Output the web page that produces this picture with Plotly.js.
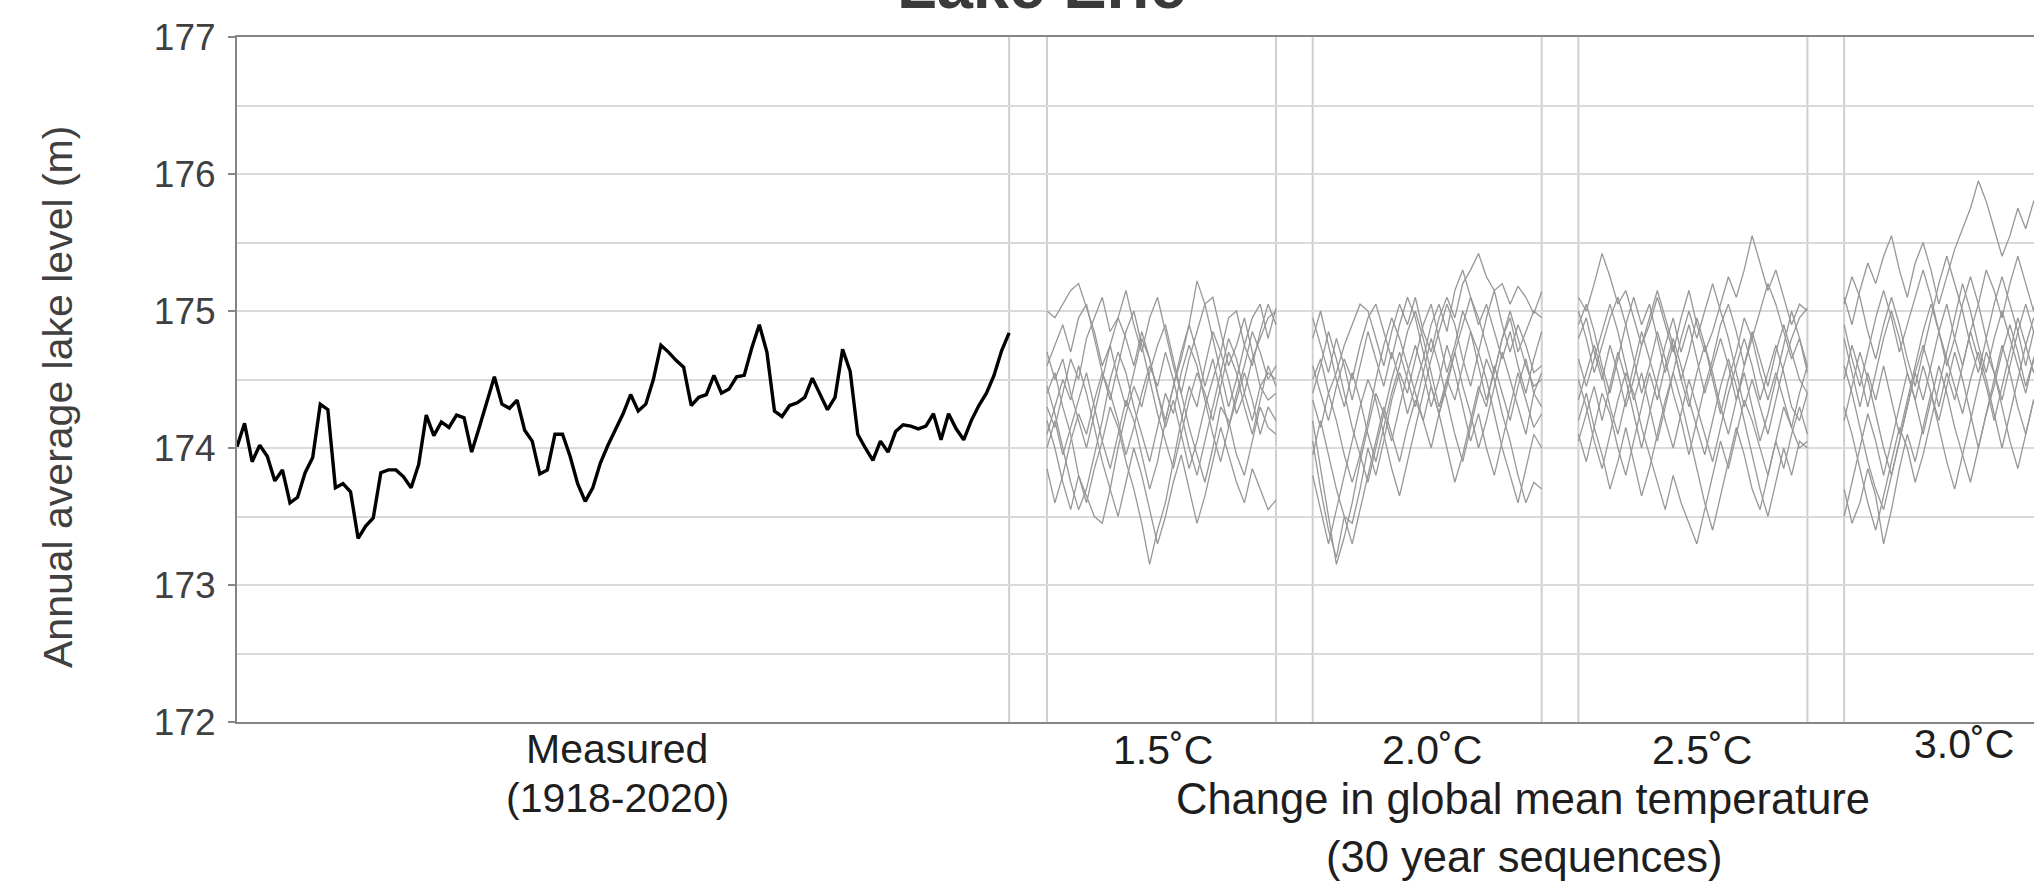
<!DOCTYPE html>
<html>
<head>
<meta charset="utf-8">
<script src="https://cdn.plot.ly/plotly-3.0.1.min.js"></script>
<style>html,body{margin:0;padding:0;background:#fff;}#chart{width:2034px;height:887px;}</style>
</head>
<body>
<div id="chart"></div>
<script>
// ---------------- DATA ----------------
const chartTitle = "Lake Erie";
const yAxisTitle = "Annual average lake level (m)";
const measuredLabel = ["Measured", "(1918-2020)"];
const scenarioLabels = ["1.5˚C", "2.0˚C", "2.5˚C", "3.0˚C"];
const scenarioAxisTitle = "Change in global mean temperature";
const scenarioAxisSub = "(30 year sequences)";
const yTicks = [172, 173, 174, 175, 176, 177];
const measuredStartYear = 1918;

// Measured annual average lake level, 1918-2020
const measured = [
  174.01,174.18,173.90,174.02,173.94,173.76,173.84,173.60,173.64,173.82,
  173.93,174.32,174.28,173.71,173.74,173.68,173.34,173.43,173.49,173.82,
  173.84,173.84,173.79,173.71,173.88,174.24,174.09,174.19,174.15,174.24,
  174.22,173.97,174.15,174.33,174.52,174.32,174.29,174.35,174.13,174.05,
  173.81,173.84,174.10,174.10,173.94,173.74,173.61,173.71,173.89,174.02,
  174.13,174.25,174.39,174.27,174.32,174.50,174.75,174.70,174.64,174.59,
  174.31,174.37,174.39,174.53,174.40,174.43,174.52,174.53,174.73,174.90,
  174.70,174.27,174.23,174.31,174.33,174.37,174.51,174.39,174.28,174.37,
  174.72,174.56,174.10,174.00,173.91,174.05,173.97,174.12,174.17,174.16,
  174.14,174.16,174.25,174.06,174.25,174.14,174.06,174.20,174.31,174.40,
  174.53,174.71,174.84
];

// 30-year simulated sequences, +1.5 C
const seq15 = [
  [175.00,174.95,175.05,175.15,175.20,175.02,174.85,174.60,174.75,174.50,174.30,174.55,174.80,174.65,174.40,174.20,174.45,174.70,174.90,175.22,175.05,175.10,174.85,174.60,174.75,174.95,174.70,174.45,174.55,174.50],
  [174.40,174.55,174.30,174.10,173.80,173.60,173.85,174.05,174.30,174.15,173.90,173.70,173.45,173.15,173.40,173.60,173.90,174.20,174.45,174.30,174.60,174.85,174.70,174.50,174.25,174.40,174.65,174.80,174.95,175.00],
  [174.20,174.00,173.75,173.55,173.80,173.65,173.50,173.45,173.70,174.00,174.25,174.45,174.30,174.55,174.75,174.90,174.65,174.40,174.15,173.95,173.75,174.00,174.30,174.20,173.95,173.80,174.05,174.30,174.15,174.10],
  [174.60,174.75,174.90,174.70,174.95,175.05,174.80,174.55,174.35,174.60,174.85,175.00,174.75,174.50,174.25,174.05,173.85,174.10,174.35,174.55,174.40,174.20,174.45,174.70,174.55,174.30,174.10,174.35,174.60,174.45],
  [174.10,174.30,174.50,174.35,174.60,174.40,174.15,173.90,173.70,173.50,173.75,174.00,173.80,173.55,173.30,173.50,173.75,173.95,173.70,173.45,173.65,173.90,174.15,173.95,173.75,173.60,173.85,173.70,173.55,173.62],
  [174.30,174.15,174.40,174.65,174.50,174.80,174.95,175.10,174.85,174.95,175.15,174.90,174.70,174.95,175.10,174.85,174.60,174.40,174.65,174.85,175.05,174.80,174.55,174.30,174.50,174.75,174.60,174.85,175.05,174.90],
  [173.85,173.60,173.80,174.05,174.25,174.10,174.35,174.55,174.40,174.20,173.95,174.15,174.40,174.60,174.45,174.70,174.50,174.25,174.00,173.80,174.05,174.30,174.55,174.80,174.65,174.40,174.20,174.45,174.35,174.40],
  [174.45,174.25,174.00,173.75,173.55,173.70,173.95,174.20,174.50,174.70,174.55,174.30,174.10,173.90,174.15,174.40,174.25,174.55,174.75,174.60,174.35,174.10,173.90,174.15,174.40,174.60,174.85,174.70,174.50,174.60],
  [174.00,174.20,173.95,174.15,174.35,174.55,174.30,174.05,173.85,174.10,174.35,174.20,173.95,173.70,173.90,174.20,174.45,174.65,174.90,174.70,174.45,174.65,174.40,174.15,174.35,174.55,174.35,174.10,174.30,174.20],
  [174.70,174.50,174.65,174.40,174.20,174.00,174.25,174.50,174.75,174.95,174.80,174.60,174.85,174.65,174.40,174.15,174.35,174.10,173.85,174.05,174.30,174.50,174.70,174.95,175.00,174.75,174.95,175.05,174.80,175.02]
];

// +2.0 C
const seq20 = [
  [174.50,174.65,174.40,174.55,174.75,174.90,175.05,175.00,174.80,174.60,174.85,175.05,174.90,175.10,174.85,174.70,174.95,175.10,174.95,175.20,175.30,175.42,175.25,175.15,175.20,175.05,175.18,175.10,174.98,175.14],
  [174.20,173.85,173.50,173.15,173.35,173.60,173.90,174.15,174.40,174.25,174.50,174.70,174.50,174.30,174.55,174.80,174.60,174.35,174.10,173.90,174.15,174.40,174.65,174.50,174.25,174.05,173.80,173.60,173.75,173.70],
  [174.05,173.70,173.40,173.20,173.50,173.45,173.70,174.00,173.80,174.05,174.35,174.55,174.40,174.65,174.90,175.05,174.80,174.55,174.75,175.00,174.85,174.60,174.35,174.55,174.80,174.95,174.70,174.85,175.00,174.95],
  [174.80,175.00,174.75,174.50,174.30,174.55,174.35,174.10,173.90,174.15,174.40,174.60,174.85,175.00,174.80,174.55,174.30,174.50,174.70,174.45,174.25,174.00,174.20,174.45,174.70,174.50,174.30,174.10,174.40,174.55],
  [173.80,173.55,173.30,173.55,173.80,174.05,174.30,174.50,174.35,174.10,173.85,173.65,173.90,174.15,174.40,174.65,174.85,175.05,174.90,174.65,174.45,174.70,174.95,175.15,174.90,174.70,174.90,174.75,174.55,174.60],
  [174.35,174.15,174.40,174.20,173.95,173.75,173.95,174.20,174.50,174.75,174.95,174.80,174.60,174.40,174.20,174.00,174.25,174.50,174.35,174.60,174.85,174.70,174.50,174.25,174.00,173.80,173.60,173.85,174.10,174.00],
  [174.60,174.40,174.20,174.45,174.65,174.50,174.75,174.95,175.05,174.85,174.65,174.90,175.10,174.95,174.70,174.45,174.25,174.45,174.70,174.90,175.10,174.95,174.75,174.55,174.80,175.00,174.80,174.60,174.45,174.50],
  [173.95,174.20,173.95,173.70,173.50,173.30,173.55,173.80,174.05,174.30,174.10,173.90,174.15,174.35,174.20,174.45,174.25,174.00,173.75,173.95,174.20,174.45,174.30,174.60,174.40,174.20,174.45,174.65,174.40,174.30],
  [174.95,174.75,174.55,174.80,174.60,174.35,174.60,174.85,174.65,174.45,174.70,174.50,174.25,174.45,174.65,174.90,175.05,174.85,175.15,175.30,175.10,174.90,175.05,174.85,174.65,174.85,174.60,174.40,174.65,174.85],
  [174.40,174.60,174.85,174.65,174.40,174.15,173.95,173.75,174.00,174.25,174.05,174.30,174.55,174.75,174.55,174.30,174.50,174.75,174.55,174.30,174.05,174.25,174.00,173.80,174.05,174.30,174.55,174.35,174.15,174.25]
];

// +2.5 C
const seq25 = [
  [175.10,175.00,175.20,175.42,175.25,175.05,175.15,174.95,174.75,174.90,175.10,174.90,174.70,174.95,175.15,174.90,174.70,174.85,175.05,175.25,175.10,175.30,175.55,175.35,175.15,175.30,175.10,174.90,175.05,175.00],
  [175.00,174.80,174.55,174.75,174.95,175.10,174.90,174.65,174.40,174.60,174.85,174.65,174.40,174.20,173.95,174.20,174.45,174.65,174.90,175.05,174.85,174.60,174.80,175.00,175.20,175.05,174.85,174.65,174.80,174.60],
  [174.50,174.30,174.05,173.85,174.10,174.35,174.55,174.40,174.15,173.95,173.75,173.55,173.80,173.60,173.45,173.30,173.55,173.80,174.05,173.85,174.10,174.35,174.20,174.00,173.80,174.05,174.30,174.15,174.00,174.05],
  [174.80,174.95,174.70,174.50,174.75,174.55,174.30,174.50,174.75,174.95,175.15,174.95,174.75,174.50,174.30,174.55,174.75,174.55,174.30,174.10,174.35,174.60,174.85,174.65,174.45,174.70,174.90,174.70,174.50,174.40],
  [174.20,174.40,174.15,173.95,173.70,173.90,174.15,173.90,173.65,173.85,174.10,174.35,174.55,174.35,174.10,173.85,173.60,173.40,173.65,173.90,174.15,173.95,173.70,173.55,173.80,174.05,173.85,174.10,174.30,174.10],
  [174.65,174.45,174.65,174.85,175.05,174.85,174.60,174.35,174.55,174.30,174.05,174.30,174.55,174.80,175.00,174.80,175.00,175.20,175.00,174.80,174.55,174.30,174.50,174.30,174.10,174.35,174.60,174.80,174.95,175.02],
  [174.10,173.90,174.15,174.40,174.25,174.00,173.80,174.05,174.30,174.55,174.35,174.60,174.80,174.60,174.35,174.15,173.95,174.20,174.45,174.65,174.45,174.20,173.95,173.70,173.50,173.75,174.00,173.80,174.05,174.00],
  [174.90,175.05,174.85,174.60,174.40,174.65,174.90,175.10,174.90,175.05,174.80,174.55,174.75,174.50,174.70,174.95,174.75,174.50,174.25,174.50,174.70,174.95,174.80,174.55,174.35,174.55,174.35,174.15,174.40,174.60],
  [174.35,174.55,174.75,174.55,174.30,174.10,174.35,174.60,174.85,174.65,174.45,174.20,174.00,174.25,174.50,174.30,174.10,173.90,174.15,174.40,174.60,174.80,174.60,174.35,174.55,174.75,174.55,174.30,174.20,174.40],
  [174.05,174.25,174.45,174.20,174.45,174.70,174.50,174.25,174.00,174.25,174.50,174.75,174.95,174.70,174.90,174.65,174.40,174.60,174.80,174.60,174.35,174.55,174.30,174.05,174.25,174.50,174.75,175.00,174.80,174.55]
];

// +3.0 C
const seq30 = [
  [175.10,174.90,175.15,175.35,175.20,175.40,175.55,175.30,175.10,175.35,175.50,175.30,175.05,175.25,175.45,175.60,175.75,175.95,175.80,175.60,175.40,175.55,175.75,175.60,175.80,175.75,175.55,175.70,175.50,175.60],
  [174.90,174.65,174.45,174.70,174.95,175.15,174.95,174.70,174.90,175.10,175.30,175.10,174.85,175.05,174.80,174.60,174.85,175.05,175.30,175.15,174.95,175.20,175.40,175.20,175.00,175.40,175.25,175.05,175.20,175.10],
  [174.60,174.40,174.15,173.90,173.70,173.55,173.80,174.05,174.30,174.55,174.35,174.60,174.85,174.65,174.45,174.25,174.50,174.70,174.50,174.25,174.00,174.25,174.50,174.75,174.95,174.80,174.60,174.85,174.65,174.75],
  [173.70,173.45,173.60,173.85,173.65,173.30,173.55,173.85,174.10,173.90,174.15,174.40,174.20,174.45,174.70,174.50,174.25,174.00,174.25,174.50,174.75,174.55,174.30,174.10,174.35,174.40,174.20,174.45,174.65,174.50],
  [174.50,174.75,174.55,174.30,174.55,174.80,175.00,174.80,174.55,174.35,174.10,174.35,174.60,174.40,174.15,173.95,173.75,174.00,174.25,174.45,174.70,174.90,174.70,174.45,174.65,174.85,174.60,174.35,174.55,174.40],
  [174.30,174.10,173.85,173.60,173.40,173.65,173.90,174.15,174.00,173.75,173.95,174.20,174.45,174.70,174.95,175.20,175.00,174.75,174.55,174.80,175.00,174.80,174.60,174.40,174.65,174.30,174.05,174.30,174.55,174.35],
  [175.05,175.25,175.10,174.85,174.65,174.90,175.10,174.90,174.65,174.45,174.70,174.95,175.20,175.40,175.20,175.00,174.75,174.55,174.80,175.05,175.25,175.05,174.85,174.60,174.85,174.80,175.00,174.80,174.60,174.70],
  [173.50,173.75,174.00,174.25,174.05,173.80,174.05,174.30,174.55,174.35,174.60,174.40,174.15,173.90,173.70,173.95,174.20,174.45,174.70,174.55,174.30,174.05,173.85,174.10,174.35,174.25,174.50,174.30,174.10,174.25],
  [174.80,174.55,174.30,174.55,174.35,174.60,174.35,174.10,174.35,174.60,174.85,175.05,174.85,174.60,174.80,175.05,175.25,175.05,174.80,174.55,174.35,174.60,174.85,175.05,174.85,174.65,174.90,175.10,174.90,175.00],
  [174.20,174.45,174.70,174.50,174.25,174.00,173.80,174.05,174.30,174.55,174.75,174.55,174.30,174.55,174.35,174.60,174.85,174.65,174.45,174.20,174.45,174.70,174.95,174.75,174.55,174.80,174.60,174.85,175.05,174.90]
];

// ---------------- LAYOUT CONSTANTS ----------------
const W = 2034, H = 887;
const M = {l: 237, r: 0, t: 37, b: 165};
const pxPerUnit = 7.57;                 // pixels per x unit (1 unit = 1 measured year)
const xMax = (W - M.l - M.r) / pxPerUnit;
const groupStart0 = 107, groupPeriod = 35.1, groupSpan = 30.25;
const FONT = "'Liberation Sans', Arial, sans-serif";
const plotW = W - M.l - M.r, plotH = H - M.t - M.b;
const px2x = px => (px - M.l) / plotW;     // paper x
const py2y = py => (H - M.b - py) / plotH; // paper y

// ---------------- TRACES ----------------
const traces = [];
const groups = [seq15, seq20, seq25, seq30];
groups.forEach((grp, g) => {
  const start = groupStart0 + g * groupPeriod;
  grp.forEach(seq => {
    const n = seq.length;
    traces.push({
      type: 'scatter', mode: 'lines',
      x: seq.map((_, j) => start + j * groupSpan / (n - 1)),
      y: seq,
      line: {color: '#979797', width: 1.3},
      hoverinfo: 'skip'
    });
  });
});
traces.push({
  type: 'scatter', mode: 'lines',
  x: measured.map((_, i) => i),
  y: measured,
  text: measured.map((_, i) => String(measuredStartYear + i)),
  line: {color: '#000000', width: 3.4}
});

// vertical separators
const vlines = [measured.length - 1];
groups.forEach((_, g) => {
  const s = groupStart0 + g * groupPeriod;
  vlines.push(s, s + groupSpan);
});
const shapes = vlines.map(v => ({
  type: 'line', xref: 'x', yref: 'paper', x0: v, x1: v, y0: 0, y1: 1,
  line: {color: '#cfcfcf', width: 2}, layer: 'below'
}));

// ---------------- ANNOTATIONS ----------------
const labFont = {family: FONT, size: 41, color: '#1e1e1e'};
const axFont = {family: FONT, size: 43.5, color: '#1e1e1e'};
const annotations = [
  {text: chartTitle, xref: 'paper', yref: 'paper', x: px2x(1041), y: py2y(-15),
   xanchor: 'center', yanchor: 'middle', showarrow: false,
   font: {family: FONT, size: 65, color: '#3a3a3a', weight: 'bold'}},
  {text: yAxisTitle, xref: 'paper', yref: 'paper', x: px2x(58), y: py2y(397),
   xanchor: 'center', yanchor: 'middle', textangle: -90, showarrow: false,
   font: {family: FONT, size: 41, color: '#404040'}},
  {text: measuredLabel[0], xref: 'paper', yref: 'paper', x: px2x(617), y: py2y(749),
   xanchor: 'center', yanchor: 'middle', showarrow: false, font: labFont},
  {text: measuredLabel[1], xref: 'paper', yref: 'paper', x: px2x(617), y: py2y(798),
   xanchor: 'center', yanchor: 'middle', showarrow: false, font: labFont},
  {text: scenarioAxisTitle, xref: 'paper', yref: 'paper', x: px2x(1523), y: py2y(799),
   xanchor: 'center', yanchor: 'middle', showarrow: false, font: axFont},
  {text: scenarioAxisSub, xref: 'paper', yref: 'paper', x: px2x(1524), y: py2y(857),
   xanchor: 'center', yanchor: 'middle', showarrow: false, font: axFont}
];
const labX = [1163, 1432, 1702, 1964];
const labY = [750, 750, 750, 744];
scenarioLabels.forEach((t, k) => annotations.push({
  text: t, xref: 'paper', yref: 'paper', x: px2x(labX[k]), y: py2y(labY[k]),
  xanchor: 'center', yanchor: 'middle', showarrow: false, font: labFont
}));

const layout = {
  width: W, height: H,
  margin: {l: M.l, r: M.r, t: M.t, b: M.b, pad: 0},
  paper_bgcolor: '#ffffff', plot_bgcolor: '#ffffff',
  showlegend: false,
  xaxis: {
    range: [0, xMax], showgrid: false, zeroline: false, showticklabels: false,
    ticks: '', showline: true, linecolor: '#858585', linewidth: 2, mirror: true,
    fixedrange: true
  },
  yaxis: {
    range: [172, 177], tickmode: 'array', tickvals: yTicks,
    ticktext: yTicks.map(String),
    ticks: 'outside', ticklen: 7, tickwidth: 2, tickcolor: '#858585',
    ticklabelstandoff: 5,
    showline: true, linecolor: '#858585', linewidth: 2,
    showgrid: true, gridcolor: '#dadada', gridwidth: 2,
    minor: {dtick: 0.5, tick0: 172, showgrid: true, gridcolor: '#dadada', gridwidth: 2, ticks: ''},
    zeroline: false,
    tickfont: {family: FONT, size: 37, color: '#404040'},
    fixedrange: true
  },
  shapes: shapes,
  annotations: annotations
};

Plotly.newPlot('chart', traces, layout, {displayModeBar: false, staticPlot: true});
</script>
</body>
</html>
